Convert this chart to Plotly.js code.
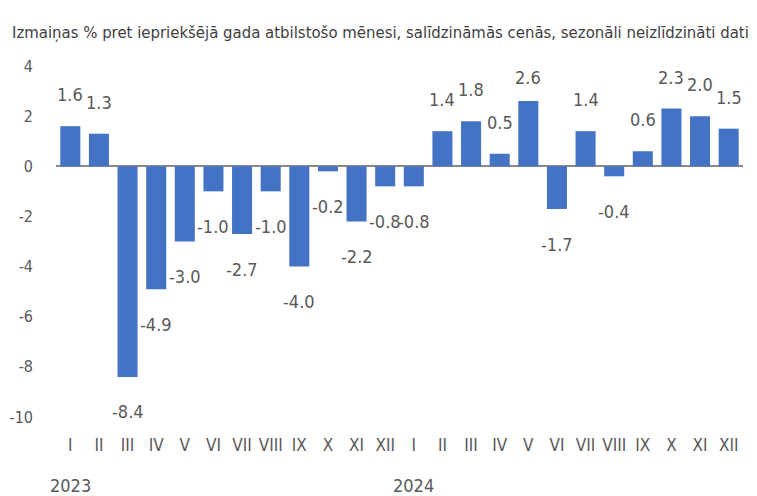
<!DOCTYPE html>
<html>
<head>
<meta charset="utf-8">
<script src="https://cdn.plot.ly/plotly-3.0.1.min.js"></script>
<style>html,body{margin:0;padding:0;background:#fff;}#chart{width:757px;height:496px;}
svg text{font-stretch:condensed !important;}</style>
</head>
<body>
<div id="chart"></div>
<script>
const months = ["I","II","III","IV","V","VI","VII","VIII","IX","X","XI","XII"];
const years = ["2023","2024"];
const values2023 = [1.6, 1.3, -8.4, -4.9, -3.0, -1.0, -2.7, -1.0, -4.0, -0.2, -2.2, -0.8];
const values2024 = [-0.8, 1.4, 1.8, 0.5, 2.6, -1.7, 1.4, -0.4, 0.6, 2.3, 2.0, 1.5];
const yTicks = [-10, -8, -6, -4, -2, 0, 2, 4];
const subtitle = "Izmaiņas % pret iepriekšējā gada atbilstošo mēnesi, salīdzināmās cenās, sezonāli neizlīdzināti dati";

const FONT = "DejaVu Sans";
const x = [], y = [], tt = [];
years.forEach((yr, i) => {
  const vals = i === 0 ? values2023 : values2024;
  months.forEach((m, j) => { x.push(yr + "-" + m); y.push(vals[j]); tt.push(m); });
});

const annotations = [];
x.forEach((cat, i) => {
  const v = y[i];
  const ly = v >= 0 ? Math.min(v + 1.25, 3.55) : v - 1.4;
  annotations.push({x: cat, y: ly, xref: 'x', yref: 'y', text: v.toFixed(1), showarrow: false,
    xanchor: 'center', yanchor: 'middle', font: {family: FONT, size: 18, color: '#595959'}});
});
years.forEach(yr => {
  annotations.push({x: yr + "-" + months[0], y: 0, xref: 'x', yref: 'paper', text: yr, showarrow: false,
    xanchor: 'center', yanchor: 'middle', yshift: -68, font: {family: FONT, size: 18, color: '#595959'}});
});
annotations.push({x: 0, y: 1, xref: 'paper', yref: 'paper', xshift: -46, yshift: 34, text: subtitle, showarrow: false,
  xanchor: 'left', yanchor: 'middle', font: {family: FONT, size: 16.6, color: '#404040'}});

Plotly.newPlot('chart', [{
  type: 'bar', x: x, y: y,
  marker: {color: '#4472C4', line: {color: '#4472C4', width: 0}},
  hoverinfo: 'skip'
}], {
  width: 757, height: 496,
  margin: {l: 56, r: 14, t: 66, b: 79},
  paper_bgcolor: '#fff', plot_bgcolor: '#fff',
  bargap: 0.3,
  showlegend: false,
  xaxis: {type: 'category', tickvals: x, ticktext: tt, showgrid: false, zeroline: false, showline: false,
    range: [-0.5, x.length - 0.5],
    automargin: false, ticks: '', ticklabelstandoff: 16, tickangle: 0,
    tickfont: {family: FONT, size: 17, color: '#595959'}},
  yaxis: {range: [-10, 4], tickvals: yTicks, ticktext: yTicks.map(String), showgrid: false,
    automargin: false,
    zeroline: true, zerolinecolor: '#898989', zerolinewidth: 2, showline: false, ticks: '',
    ticklabelstandoff: 22,
    tickfont: {family: FONT, size: 16, color: '#595959'}},
  annotations: annotations
}, {displayModeBar: false, staticPlot: true});
</script>
</body>
</html>
